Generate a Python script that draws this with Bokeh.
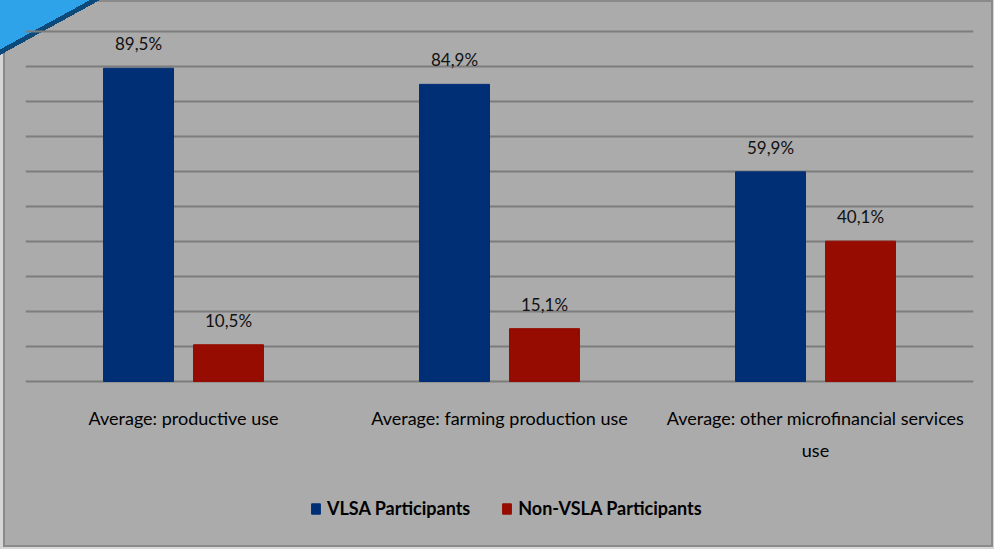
from bokeh.plotting import figure
from bokeh.models import (FactorRange, Range1d, Legend, LegendItem,
                          ColumnDataSource, LabelSet, FixedTicker)
from bokeh.core.properties import value
from bokeh.transform import dodge
from bokeh.embed import file_html
from bokeh.resources import INLINE

categories = ["Average: productive use",
              "Average: farming production use",
              "Average: other microfinancial services\nuse"]
vlsa = [89.5, 84.9, 59.9]
non_vlsa = [10.5, 15.1, 40.1]
vlsa_labels = ["89,5%", "84,9%", "59,9%"]
non_vlsa_labels = ["10,5%", "15,1%", "40,1%"]
series_names = ["VLSA Participants", "Non-VSLA Participants"]
grid_values = [0, 10, 20, 30, 40, 50, 60, 70, 80, 90, 100]

BG = "#ababab"
BLUE = "#002f75"
RED = "#960c00"
FONT = "Lato"
EDGE = "#8a8a8a"

src = ColumnDataSource(dict(cat=categories, vlsa=vlsa, non=non_vlsa,
                            vl=vlsa_labels, nl=non_vlsa_labels))

p = figure(x_range=FactorRange(*categories, range_padding=0),
           y_range=Range1d(-48.0, 100.571),
           width=994, height=549,
           min_border_left=25, min_border_right=21,
           min_border_top=29, min_border_bottom=0,
           output_backend="svg", toolbar_location=None)

p.background_fill_alpha = 0
p.border_fill_alpha = 0
p.outline_line_color = None


def solid(c):
    return f"linear-gradient({c},{c})"


# page-level decoration: corner triangle on top, then the card's edge lines, card fill, page
p.styles = {
    "background": ", ".join([
        "linear-gradient(to bottom right, #2ea3ea 0%, #2ea3ea 45%, #0b4a7a 45%, "
        "#0b4a7a 50%, rgba(0,0,0,0) 50%) 0 0 / 100px 55px no-repeat",
        solid(EDGE) + " 3px 0px / 990px 2px no-repeat",
        solid(EDGE) + " 3px 545px / 990px 2px no-repeat",
        solid(EDGE) + " 3px 0px / 2px 547px no-repeat",
        solid(EDGE) + " 991px 0px / 2px 547px no-repeat",
        solid(BG) + " 3px 0px / 990px 547px no-repeat",
        "#d6d6d6",
    ]),
}

off = 0.1424
bw = 0.2215
r1 = p.vbar(x=dodge("cat", -off, range=p.x_range), top="vlsa", width=bw,
            source=src, fill_color=BLUE, line_color=BLUE)
r2 = p.vbar(x=dodge("cat", off, range=p.x_range), top="non", width=bw,
            source=src, fill_color=RED, line_color=RED)

for col, lab, dx in (("vlsa", "vl", -off), ("non", "nl", off)):
    p.add_layout(LabelSet(x=dodge("cat", dx, range=p.x_range), y=col, text=lab,
                          source=src, text_align="center", text_baseline="alphabetic",
                          y_offset=18, text_font=value(FONT), text_font_size="17px",
                          text_color="#111111"))

p.yaxis.visible = False
p.ygrid.ticker = FixedTicker(ticks=grid_values)
p.ygrid.grid_line_color = "#7d7d7d"
p.ygrid.grid_line_width = 2
p.xgrid.grid_line_color = None

ax = p.xaxis[0]
ax.fixed_location = 0
ax.axis_line_color = None
ax.major_tick_line_color = None
ax.major_tick_out = 0
ax.major_tick_in = 0
ax.major_label_standoff = 26
ax.major_label_text_font = FONT
ax.major_label_text_font_size = "18px"
ax.major_label_text_color = "#000000"
ax.major_label_text_line_height = 1.45

legend = Legend(items=[LegendItem(label=series_names[0], renderers=[r1]),
                       LegendItem(label=series_names[1], renderers=[r2])],
                orientation="horizontal", location=(285, 30),
                background_fill_alpha=0, border_line_color=None,
                padding=0, margin=0, spacing=31, label_standoff=6,
                glyph_width=11, glyph_height=13,
                label_text_font=FONT, label_text_font_style="bold",
                label_text_font_size="18px", label_text_color="#000000")
p.add_layout(legend, "center")

open("out.html", "w").write(file_html(p, INLINE))
